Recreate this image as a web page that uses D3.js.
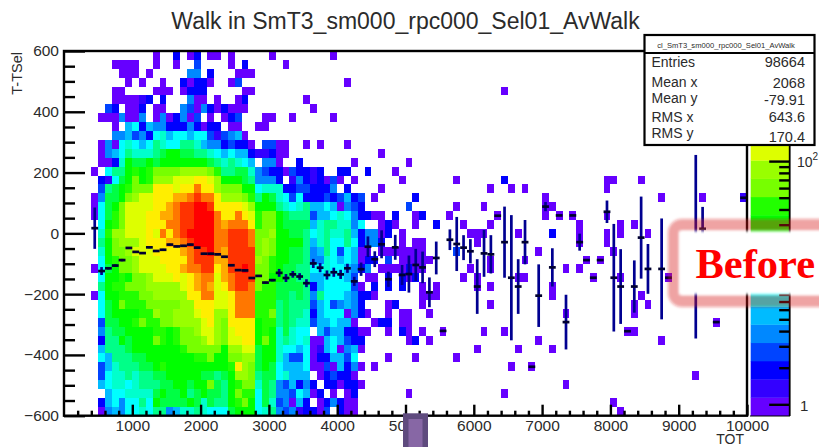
<!DOCTYPE html>
<html>
<head>
<meta charset="utf-8">
<script src="https://cdn.jsdelivr.net/npm/d3@7"></script>
<style>
  html, body { margin: 0; padding: 0; background: #fff; overflow: hidden; }
  svg { display: block; }
  text { font-family: "Liberation Sans", Arial, sans-serif; fill: #2b2b2b; }
  .soft { filter: blur(0.35px); }
</style>
</head>
<body>
<svg id="chart" width="819" height="447"></svg>
<script>
// colour band of each z level, bottom of the palette first
const palette = ["#6600ff", "#3300ff", "#0000ff", "#0044ff", "#0088ff", "#00bbff", "#00ffff", "#00ffcc", "#00ff88", "#00ff44",
  "#00ff00", "#22ff00", "#77ff00", "#99ff00", "#ddff00", "#ffee00", "#ffaa00", "#ff7700", "#ff3300", "#ff0000"]

// dense part of the histogram: one string per y bin (top first), TOT bins 4 to 42, base 36 level, "." = empty
const denseRows = [
  ".........0 ..2.02.00. 0.....0... .....0...",
  "...0000..0 ..0..3.... 0.2.....0. .........",
  "....000.0. ....44.2.. .000...... .........",
  ".....0.0.. 0..20220.. 03........ .......0.",
  "...00....0 00.0222... ..00...... .........",
  "...000012. 2...400.0. .02....... .0.......",
  "..32.002.0 0..4304202 000....... ..0......",
  ".0004004.0 402403.0.0 23...00..0 .....0...",
  "...0.56254 422242022. 00..00.... .........",
  "...4453426 7566566313 450....... .........",
  ".040676568 7668875442 3220.3300. .0.0...0.",
  ".045687778 9aa9988765 655211200. .........",
  ".0027a99a9 aaaaaaa987 8765.440.. 2.......0",
  "0.688ababc cccddddcb8 8997432203 2212..22.",
  ".2169acabd ddeeeffeda aa984442.1 4212030.0",
  ".389abcccf ffeffhffdc ccaa677722 332224.2.",
  "0499acdeef ffgghihhfd ddcb8a9763 622232352",
  "069aceeeef fghiijjiff ffedaaa876 785565043",
  "069bceeeff gghiijjjhf fhfebcca98 883556764",
  ".6abceeeff fhhiijjjhg hhhfbcca99 995788774",
  ".7bddeeefe hfhijjjjhh iiihccdaa9 986787785",
  ".8acdddeff fgghijjjhh iiihcdcaaa a85786686",
  ".7accdeeef fffghiijhg iiiicdcaa9 984586365",
  ".6abccdeee ffffhiiigg iiiidcbaa9 984476565",
  "069accdeee effghhiifg iijiccba99 886676654",
  ".6aabaccde eefefghheg hiiiccaa99 885566653",
  ".8abbcccdd dddefghgef hiihcbb999 982566663",
  "06aabbbccd ddddffhhee fhhhbbb998 984866654",
  ".69acbbbcc cccddfffee fhhhbbb898 883563454",
  ".69aaaabbd ccdddeffdd fhhhbbc898 872566604",
  ".399aabcbb ccddddefdc ffffabb898 773556550",
  ".4899aaaab babccdeedc efffaba797 66.535522",
  ".288a9aaac babcccdedc eeffaca787 670056532",
  ".58889aaaa aaabccccca ddee9aa766 560156045",
  ".6588899aa aaaaabbcaa ccdd9aa753 360225536",
  ".35788899a baaaaaaaaa bfdc9a9655 560030524",
  ".367787889 9aaaaa9989 addc899675 55.023220",
  ".567767888 99aa9aac98 abcc798435 242.22022",
  "..56677779 a99a89a998 acbb698443 6502.0.02",
  ".25646686a 9999a97988 abca697340 52.024200",
  ".045466768 8457787666 9aaa678434 12203.200"
]
const denseFirstBin = 4

// scattered cells past the dense part: [y bin, TOT bin, level]
const sparseCells = [
  [4,64,0],[11,46,0],[12,50,0],[13,44,2],[13,48,0],[14,49,0],[14,57,0],[14,64,2],[14,79,0],[14,80,0],[14,84,0],
  [15,46,0],[15,62,0],[15,65,0],[15,67,0],[15,79,0],
  [16,43,3],[16,45,0],[16,51,2],[16,70,0],[16,87,0],[16,93,0],[16,99,1],
  [17,43,2],[17,50,3],[17,57,0],[17,61,0],[17,70,0],[17,71,0],
  [18,43,2],[18,44,2],[18,45,0],[18,46,0],[18,48,2],[18,51,0],[18,52,2],[18,56,0],[18,63,0],[18,70,0],[18,72,0],[18,74,0],[18,79,0],
  [19,43,6],[19,46,0],[19,47,2],[19,48,0],[19,51,0],[19,54,2],[19,58,0],[19,62,0],[19,75,0],[19,81,0],[19,83,0],
  [20,43,2],[20,44,4],[20,45,4],[20,46,0],[20,47,2],[20,49,0],[20,59,0],[20,60,0],[20,61,0],[20,66,0],[20,71,2],[20,75,0],[20,79,0],[20,81,0],[20,85,0],
  [21,43,2],[21,44,4],[21,45,4],[21,46,2],[21,49,0],[21,51,0],[21,52,0],[21,60,0],[21,75,0],[21,79,0],
  [22,43,0],[22,44,0],[22,46,0],[22,47,0],[22,48,0],[22,49,0],[22,50,0],[22,51,0],[22,52,0],[22,57,3],[22,69,0],[22,80,0],
  [23,43,0],[23,44,2],[23,45,2],[23,47,3],[23,49,0],[23,50,0],[23,51,0],[23,52,0],[23,53,0],[23,62,0],[23,67,0],[23,76,0],[23,78,0],
  [24,43,2],[24,44,4],[24,46,0],[24,47,0],[24,48,0],[24,49,0],[24,50,2],[24,51,0],[24,52,0],[24,59,0],[24,62,0],[24,73,0],[24,75,0],
  [25,44,0],[25,45,0],[25,47,2],[25,49,2],[25,50,0],[25,51,2],[25,58,0],[25,60,0],[25,66,0],[25,67,0],[25,77,0],[25,81,0],[25,88,0],
  [26,43,0],[26,45,2],[26,47,2],[26,49,2],[26,52,0],[26,54,0],[26,60,0],[26,62,0],[26,71,0],
  [27,43,2],[27,44,2],[27,45,0],[27,52,0],[27,53,0],[27,54,0],[27,71,0],[27,84,0],
  [28,43,2],[28,47,0],[28,48,2],[28,52,0],[28,62,0],[28,83,0],[28,85,0],
  [29,43,2],[29,44,0],[29,47,0],[29,49,0],[29,50,0],[29,53,0],[29,73,0],[29,83,0],
  [30,45,0],[30,46,2],[30,47,2],[30,49,0],[30,50,0],[30,95,0],
  [31,43,0],[31,44,0],[31,47,0],[31,49,2],[31,50,0],[31,52,0],[31,55,0],[31,61,0],[31,64,0],[31,82,0],[31,83,0],
  [32,43,2],[32,50,0],[32,51,2],[32,53,0],[32,69,0],[32,87,0],
  [33,43,0],[33,60,0],[33,66,0],[33,71,0],
  [34,47,0],[34,51,0],[34,57,0],
  [35,43,0],[35,45,0],[35,65,0],[35,68,0],
  [36,92,0],[37,43,0],[37,73,0],[38,50,0],[38,64,0],[39,80,0],[40,81,0]
]

// profile points drawn over the histogram
const profileBins = [4,5,6,7,8,9,10,11,12,13,14,15,16,17,18,19,20,21,22,23,24,25,26,27,28,29,30,31,32,33,34,35,36,37,38,39,40,41,42,43,44,45,46,47,48,49,50,51,52,53,54,55,56,57,58,59,60,61,62,63,64,65,66,67,68,69,70,71,72,73,74,75,76,77,78,79,80,81,82,83,84,85,87,88,92,93,95,99]
const profileMean = [17,-124,-115,-106,-88,-48,-61,-65,-46,-58,-54,-37,-43,-41,-37,-47,-67,-67,-69,-77,-105,-121,-122,-147,-140,-162,-154,-130,-147,-135,-142,-164,-99,-113,-137,-128,-135,-115,-158,-118,-44,-85,-36,-151,-46,-137,-134,-104,-112,-194,-81,-321,-21,-35,-47,-59,-175,-66,-69,58,-29,-146,-175,-29,-439,-205,88,-112,59,-292,59,-29,-88,-146,-88,71,-146,-175,-322,-175,-14,-117,-117,-146,-44,15,-292,117]
const profileErr = [68,13,4,4,4,3,3,3,3,3,3,3,3,3,3,3,3,3,3,3,3,3,3,3,3,3,4,13,13,11,11,13,15,15,15,15,15,15,15,22,34,26,46,25,41,33,61,53,52,49,54,0,34,89,41,40,90,77,63,0,117,206,90,73,0,103,15,63,0,90,0,28,0,0,0,37,177,123,0,86,135,82,166,0,302,72,0,0]

const xMajor = [1000,2000,3000,4000,5000,6000,7000,8000,9000,10000]
const yMajor = [-600,-400,-200,0,200,400,600]
const zLongTicks = [1,10,100]
const zShortTicks = [2,3,4,5,6,7,8,9,20,30,40,50,60,70,80,90,200,300,400,500,600,700,800]
const statLabels = ["Entries","Mean x","Mean y","RMS x","RMS y"]
const statValues = ["98664","2068","-79.91","643.6","170.4"]

const svg = d3.select("#chart")
const yBins = denseRows.length
const binW = 100
const binH = 1200 / yBins

const x = d3.scaleLinear().domain([0, 10000]).range([64, 747])
const y = d3.scaleLinear().domain([-600, 600]).range([415.7, 51])
const z = d3.scaleLog().domain([0.806, 804]).range([415.7, 51])

// expand both storages to one flat list of cells
let cells = []
denseRows.forEach((row, r) => {
  row.replaceAll(" ", "").split("").forEach((ch, c) => {
    if (ch != ".") cells.push({ row: r, bin: c + denseFirstBin, level: parseInt(ch, 36) })
  })
})
sparseCells.forEach(d => cells.push({ row: d[0], bin: d[1], level: d[2] }))

svg.append("rect").attr("width", 819).attr("height", 447).attr("fill", "#fff")

const heat = svg.append("g").attr("class", "soft")
heat.selectAll("rect")
  .data(cells)
  .enter()
  .append("rect")
  .attr("x", d => x(d.bin * binW))
  .attr("y", d => y(600 - d.row * binH))
  .attr("width", d => x((d.bin + 1) * binW) - x(d.bin * binW))
  .attr("height", d => y(600 - (d.row + 1) * binH) - y(600 - d.row * binH))
  .attr("shape-rendering", "crispEdges")
  .attr("fill", d => palette[d.level])

// profile: error bars first, then the black dashes
const points = profileBins.map((b, i) => ({ tot: b * binW + binW / 2, low: b * binW, high: (b + 1) * binW, mean: profileMean[i], err: profileErr[i] }))
const prof = svg.append("g").attr("class", "soft")
prof.selectAll("line.err")
  .data(points)
  .enter()
  .append("line")
  .attr("class", "err")
  .attr("x1", d => x(d.tot))
  .attr("x2", d => x(d.tot))
  .attr("y1", d => y(d.mean - d.err))
  .attr("y2", d => y(d.mean + d.err))
  .attr("stroke", "#000090")
  .attr("stroke-width", 2.7)
prof.selectAll("line.mean")
  .data(points)
  .enter()
  .append("line")
  .attr("class", "mean")
  .attr("x1", d => x(d.low))
  .attr("x2", d => x(d.high))
  .attr("y1", d => y(d.mean))
  .attr("y2", d => y(d.mean))
  .attr("stroke", "#000030")
  .attr("stroke-width", 2.7)

// axes, ticks point into the frame
const axisFont = sel => sel.style("font-size", "15.5px").style("font-family", '"Liberation Sans", Arial, sans-serif')
const inkTicks = sel => {
  sel.select(".domain").remove()
  sel.selectAll("line").attr("stroke", "#000").attr("stroke-width", 2.4)
}

const xMinor = d3.range(0, 10001, 200).filter(v => v % 1000 != 0)
svg.append("g").attr("transform", "translate(0,415.7)")
  .call(d3.axisBottom(x).tickValues(xMinor).tickSize(-5).tickFormat(""))
  .call(inkTicks)
svg.append("g").attr("transform", "translate(0,415.7)")
  .call(d3.axisBottom(x).tickValues(xMajor).tickSize(-11).tickPadding(4).tickFormat(d3.format("d")))
  .call(inkTicks)
  .call(axisFont)

const yMinor = d3.range(-600, 601, 50).filter(v => v % 200 != 0)
svg.append("g").attr("transform", "translate(64,0)")
  .call(d3.axisLeft(y).tickValues(yMinor).tickSize(-11).tickFormat(""))
  .call(inkTicks)
svg.append("g").attr("transform", "translate(64,0)")
  .call(d3.axisLeft(y).tickValues(yMajor).tickSize(-21).tickPadding(5).tickFormat(d3.format("d")))
  .call(inkTicks)
  .call(axisFont)

svg.append("rect")
  .attr("x", 64).attr("y", 51)
  .attr("width", 683).attr("height", 364.7)
  .attr("fill", "none").attr("stroke", "#000").attr("stroke-width", 2.4)

svg.append("text")
  .attr("x", 405.5).attr("y", 29)
  .attr("text-anchor", "middle")
  .style("font-size", "23px")
  .text("Walk in SmT3_sm000_rpc000_Sel01_AvWalk")

svg.append("text")
  .attr("transform", "translate(22,52) rotate(-90)")
  .attr("text-anchor", "end")
  .style("font-size", "14.5px")
  .text("T-TSel")

svg.append("text")
  .attr("x", 744).attr("y", 444)
  .attr("text-anchor", "end")
  .style("font-size", "14px")
  .text("TOT")

// colour bar
const bandH = (415.7 - 51) / palette.length
svg.append("g").selectAll("rect")
  .data(palette)
  .enter()
  .append("rect")
  .attr("x", 750.7)
  .attr("y", (d, i) => 415.7 - (i + 1) * bandH)
  .attr("width", 38.5)
  .attr("height", bandH + 0.3)
  .attr("fill", d => d)

svg.append("g").attr("transform", "translate(789.2,0)")
  .call(d3.axisRight(z).tickValues(zShortTicks).tickSize(-10).tickFormat(""))
  .call(inkTicks)
svg.append("g").attr("transform", "translate(789.2,0)")
  .call(d3.axisRight(z).tickValues(zLongTicks).tickSize(-20).tickFormat(""))
  .call(inkTicks)

svg.append("line")
  .attr("x1", 789.7).attr("x2", 789.7).attr("y1", 51).attr("y2", 416)
  .attr("stroke", "#000").attr("stroke-width", 1.8)
svg.append("line")
  .attr("x1", 750).attr("x2", 790).attr("y1", 416).attr("y2", 416)
  .attr("stroke", "#000").attr("stroke-width", 1.2)

svg.append("text").attr("x", 800).attr("y", z(1) + 7).style("font-size", "15px").text("1")
svg.append("text").attr("x", 797).attr("y", z(100) + 6).style("font-size", "14px").text("10")
svg.append("text").attr("x", 812.5).attr("y", z(100) - 1).style("font-size", "10px").text("2")

// stats box
svg.append("rect")
  .attr("x", 644.5).attr("y", 35)
  .attr("width", 170).attr("height", 110)
  .attr("fill", "#fff").attr("stroke", "#000").attr("stroke-width", 2.2)
svg.append("line")
  .attr("x1", 644.5).attr("x2", 814.5).attr("y1", 53).attr("y2", 53)
  .attr("stroke", "#000").attr("stroke-width", 2.2)
svg.append("text")
  .attr("x", 726).attr("y", 47.5)
  .attr("text-anchor", "middle")
  .style("font-size", "7.6px")
  .text("cl_SmT3_sm000_rpc000_Sel01_AvWalk")

const labelBase = [67, 87, 103, 122, 138]
const valueBase = [67, 88, 105, 122, 142]
statLabels.forEach((s, i) => {
  svg.append("text").attr("x", 651.5).attr("y", labelBase[i]).style("font-size", "14px").text(s)
  svg.append("text").attr("x", 805).attr("y", valueBase[i]).attr("text-anchor", "end").style("font-size", "14.5px").text(statValues[i])
})

// slide callout pasted over the plot
const glow = svg.append("defs").append("filter").attr("id", "glow")
  .attr("x", "-10%").attr("y", "-20%").attr("width", "120%").attr("height", "140%")
glow.append("feGaussianBlur").attr("stdDeviation", 1.5)

svg.append("rect")
  .attr("x", 674).attr("y", 225)
  .attr("width", 200).attr("height", 76).attr("rx", 8)
  .attr("fill", "none")
  .attr("stroke", "rgb(215,20,30)").attr("stroke-opacity", 0.4).attr("stroke-width", 12)
  .attr("filter", "url(#glow)")
svg.append("rect")
  .attr("x", 679).attr("y", 231)
  .attr("width", 190).attr("height", 63.5)
  .attr("fill", "#fff")
  .attr("filter", "url(#glow)")
svg.append("text")
  .attr("x", 695.5).attr("y", 278)
  .style("font-family", '"Liberation Serif", serif')
  .style("font-weight", "bold")
  .style("font-size", "42.5px")
  .style("fill", "#ff0000")
  .text("Before")

// slide scrollbar stub at the bottom
svg.append("rect").attr("x", 403).attr("y", 413.3).attr("width", 25).attr("height", 34).attr("fill", "#5f4b7e")
svg.append("rect").attr("x", 408.5).attr("y", 419).attr("width", 14).attr("height", 28).attr("fill", "#8767a5")
</script>
</body>
</html>
